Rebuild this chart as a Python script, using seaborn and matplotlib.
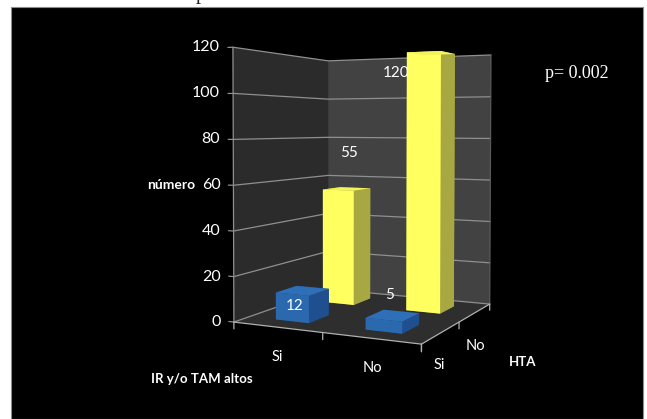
import numpy as np
import matplotlib
matplotlib.use("Agg")
import matplotlib.pyplot as plt
from matplotlib.patches import Rectangle
from mpl_toolkits.mplot3d.art3d import Poly3DCollection
import seaborn as sns

# Counts by IR y/o TAM altos (columns) and HTA (rows)
ir_labels = ["Si", "No"]
hta_labels = ["Si", "No"]
counts_hta_si = [12, 5]
counts_hta_no = [55, 120]
value_ticks = [0, 20, 40, 60, 80, 100, 120]
p_text = "p= 0.002"

W, H = 647, 419
sns.set_theme(style="dark", rc={"axes.facecolor": "black", "figure.facecolor": "white"})
SANS = ["Lato", "DejaVu Sans"]
SERIF = ["Liberation Serif", "DejaVu Serif"]

# Box corners of the 3D scene (cell x, cell y, value) and where they land on the canvas
scene = np.array([[0, 0, 0], [0, 0, 120], [2, 0, 0], [2, 2, 0], [2, 2, 120],
                  [0, 2, 120], [0, 2, 0], [1, 0, 0], [2, 1, 0]], float)
canvas = np.array([[234, 322], [233, 47], [421, 344], [490, 304], [491, 55],
                   [328, 61], [328, 289], [323, 333], [459, 322]], float)


def fit_camera(world, pix):
    """Direct linear transform: 3x4 camera from world/pixel pairs."""
    rows, rhs = [], []
    for (x, y, z), (u, v) in zip(world, pix):
        rows.append([x, y, z, 1, 0, 0, 0, 0, -u * x, -u * y, -u * z])
        rows.append([0, 0, 0, 0, x, y, z, 1, -v * x, -v * y, -v * z])
        rhs += [u, v]
    sol = np.linalg.lstsq(np.array(rows), np.array(rhs), rcond=None)[0]
    return np.append(sol, 1.0).reshape(3, 4)


camera = fit_camera(scene, canvas)


def to_canvas(x, y, z):
    u, v, w = camera @ np.array([x, y, z, 1.0])
    return u / w, v / w


fig = plt.figure(figsize=(W / 100, H / 100), dpi=100)
fig.add_artist(Rectangle((11 / W, 0), 632 / W, 1 - 7 / H, transform=fig.transFigure,
                         facecolor="black", edgecolor="#8c8c8c", linewidth=0.8, zorder=-5))
fig.text(201 / W, 1 + 1 / H, "p", family=SERIF, fontsize=15, color="#222222",
         ha="center", va="baseline")

ax = fig.add_axes([0, 0, 1, 1], projection="3d", computed_zorder=False)
ax.apply_aspect = lambda position=None: None
ax.set_axis_off()
ax.patch.set_visible(False)
ax.set_proj_type("ortho")
ax.set_xlim(0, 2)
ax.set_ylim(0, 2)
ax.set_zlim(0, 120)


def scene_projection():
    to2d = ax.transData.inverted()
    (x0, y0), (x1, y1) = to2d.transform([(0, H), (W, 0)])
    sx, sy = (x1 - x0) / W, (y1 - y0) / H
    w = camera[2]
    r0 = sx * camera[0] + x0 * w
    r1 = sy * camera[1] + y0 * w
    depth = np.array([-0.05, 0.1, -0.001, 0.5])
    return np.vstack([r0, r1, depth, w])


ax.get_proj = scene_projection


def px_text(x, y, s, **kw):
    kw.setdefault("family", SANS)
    kw.setdefault("fontsize", 11)
    kw.setdefault("color", "white")
    kw.setdefault("ha", "center")
    fig.text(x / W, 1 - y / H, s, va="center", zorder=10, **kw)


# Walls and floor
top = value_ticks[-1]
walls = [([(0, 0, 0), (0, 2, 0), (0, 2, top), (0, 0, top)], "#2b2b2b"),
         ([(0, 2, 0), (2, 2, 0), (2, 2, top), (0, 2, top)], "#424242"),
         ([(0, 0, 0), (2, 0, 0), (2, 2, 0), (0, 2, 0)], "#2e2e2e")]
for verts, shade in walls:
    ax.add_collection3d(Poly3DCollection([verts], facecolors=shade, edgecolors="none", zorder=1))

GRID = "#8f8f8f"
for v in value_ticks:
    ax.plot([-0.06, 0, 0, 2], [0, 0, 2, 2], [v, v, v, v], color=GRID, lw=0.9, zorder=2)
    u, w = to_canvas(0, 0, v)
    px_text(u - 13, w, str(v), ha="right", fontsize=11.5)

ax.plot([0, 0], [0, 0], [0, top], color=GRID, lw=0.9, zorder=2)
ax.plot([2, 2], [2, 2], [0, top], color="#5a5a5a", lw=0.9, zorder=2)
ax.plot([0, 2, 2], [0, 0, 2], [0, 0, 0], color="#b0b0b0", lw=0.9, zorder=2)
for i in range(3):
    ax.plot([i, i], [0, 0], [0, -3], color="#b0b0b0", lw=0.9, zorder=2)
    ax.plot([2, 2], [i, i], [0, -3], color="#b0b0b0", lw=0.9, zorder=2)

# Bars: the back row first, so the front row sits over it
BAR_W, BAR_D = 0.38, 0.42
blue = ["#1c4a86", "#2f6fb8", "#2a69ae", "#1c4a86", "#1c4a86", "#1f4f8e"]
yellow = ["#a8a842", "#f4f45a", "#ffff5f", "#a8a842", "#a8a842", "#a8a842"]
for row, values, faces, z in [(1, counts_hta_no, yellow, 3), (0, counts_hta_si, blue, 4)]:
    for col, value in enumerate(values):
        ax.bar3d(col + 0.5 - BAR_W / 2, row + 0.5 - BAR_D / 2, 0, BAR_W, BAR_D, value,
                 color=faces, shade=False, edgecolor="none", zorder=z)

# Value labels
px_text(295, 306, str(counts_hta_si[0]))
px_text(390, 295, str(counts_hta_si[1]))
px_text(349, 153, str(counts_hta_no[0]))
px_text(396, 73, str(counts_hta_no[1]))

# Category and axis labels
px_text(277, 357, ir_labels[0], fontsize=10.5)
px_text(372, 368, ir_labels[1], fontsize=10.5)
px_text(439, 365, hta_labels[0], fontsize=10.5)
px_text(475, 346, hta_labels[1], fontsize=10.5)
px_text(171, 185, "número", fontweight="bold", fontsize=10)
px_text(523, 362, "HTA", fontweight="bold", fontsize=9.5)
px_text(202, 379, "IR y/o TAM altos", fontweight="bold", fontsize=9.5)
px_text(577, 74, p_text, family=SERIF, fontsize=13)

fig.savefig("out.png", dpi=100)
